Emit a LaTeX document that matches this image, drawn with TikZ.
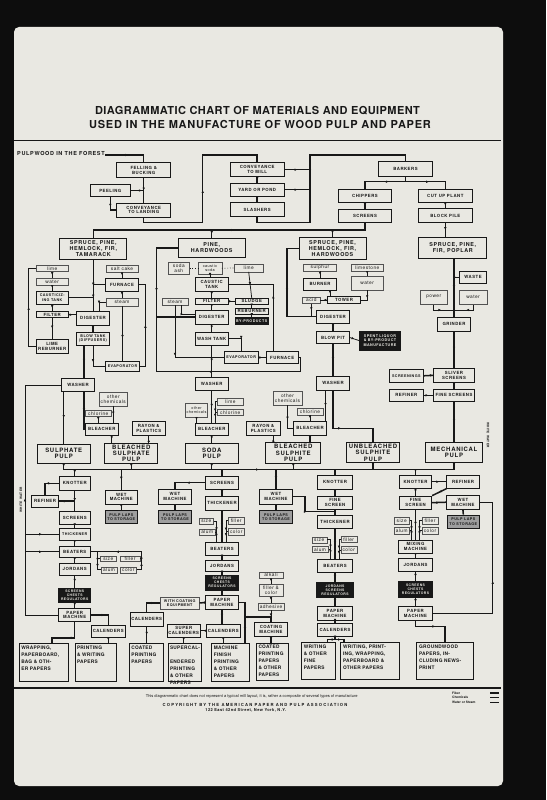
\documentclass[tikz,border=0pt]{standalone}
\usepackage{fontspec}
\usepackage{tikz}
\usetikzlibrary{arrows.meta,decorations.markings}

\newfontfamily\hvbox[LetterSpace=12]{TeX Gyre Heros}
\newfontfamily\hvchem[LetterSpace=10]{TeX Gyre Heros}
\newfontfamily\hvtitle[LetterSpace=4]{TeX Gyre Heros}
\newfontfamily\hvtitlew[LetterSpace=7]{TeX Gyre Heros}
\newfontfamily\hvfoot[LetterSpace=28]{TeX Gyre Heros}
\newfontfamily\hvprod[LetterSpace=6]{TeX Gyre Heros}
\newfontfamily\hvplain{TeX Gyre Heros}

\newcommand\bxfont{\hvbox\bfseries\fontsize{4.3}{4.8}\selectfont}
\newcommand\bxfontsm{\hvbox\bfseries\fontsize{3.7}{4.2}\selectfont}
\newcommand\tinybx{\hvbox\bfseries\fontsize{3.4}{3.9}\selectfont}
\newcommand\chfont{\hvchem\fontsize{4.8}{5.0}\selectfont}
\newcommand\chfontsm{\hvchem\fontsize{3.8}{4.4}\selectfont}
\newcommand\pulpfont{\hvbox\bfseries\fontsize{6}{6.2}\selectfont}
\newcommand\woodfont{\hvbox\bfseries\fontsize{5.4}{5.8}\selectfont}
\newcommand\prodfont{\hvprod\bfseries\fontsize{4.8}{7}\selectfont}
\newcommand\prodtext[3]{\parbox[c][#2][t]{#1}{\raggedright #3}}

\definecolor{paper}{RGB}{233,232,226}
\definecolor{ink}{RGB}{24,24,24}

\begin{document}
\begin{tikzpicture}[x=1pt,y=-1pt,
  box/.style={draw=ink, line width=0.85pt, fill=paper, inner sep=0pt, align=center, font=\bxfont, text=ink},
  chem/.style={draw=ink!75, line width=0.4pt, fill=paper, inner sep=0pt, align=center, font=\chfont, text=ink},
  dark/.style={box, fill=ink, text=paper},
  laps/.style={box, fill=black!38, font=\bxfontsm},
  pulp/.style={box, line width=1pt, font=\pulpfont},
  wood/.style={box, line width=1pt, font=\woodfont},
  prod/.style={box, line width=1pt, font=\prodfont},
  sz/.style 2 args={minimum width=#1, minimum height=#2},
  midarr/.style={postaction={decorate}, decoration={markings, mark=at position 0.5 with {\arrow{Latex[length=2.8pt,width=2.6pt]}}}},
  fiber/.style={draw=ink, line width=1.5pt, midarr},
  chemln/.style={draw=ink, line width=0.75pt, midarr},
  waterln/.style={draw=ink, line width=0.5pt, midarr},
  dotln/.style={draw=ink, line width=0.7pt, dotted}
]
\useasboundingbox (0,0) rectangle (546,800);

% slide mount and paper
\fill[black!95] (0,0) rectangle (546,800);
\fill[paper, rounded corners=5] (14,27) rectangle (503,786);
\draw[ink, line width=1.6pt] (14,140.5) -- (501,140.5);
\draw[ink, line width=2.2pt] (14,688) -- (501,688);

% title
\node[font=\hvtitle\bfseries\fontsize{11}{12}\selectfont, text=ink] (title1) at (257.5,111) {DIAGRAMMATIC CHART OF MATERIALS AND EQUIPMENT};
\node[font=\hvtitlew\bfseries\fontsize{11}{12}\selectfont, text=ink] (title2) at (260,124.7) {USED IN THE MANUFACTURE OF WOOD PULP AND PAPER};

% forest to mill
\node[font=\hvbox\bfseries\fontsize{5.5}{6}\selectfont, text=ink, anchor=base west, inner sep=0pt] (pwf) at (17,155) {PULPWOOD IN THE FOREST};
\node[box, sz={54}{15}] (fell) at (143.7,170.2) {FELLING \&\\BUCKING};
\node[box, sz={40.7}{12.4}] (peel) at (110.3,190.5) {PEELING};
\node[box, sz={54}{14}] (convl) at (143.7,210) {CONVEYANCE\\TO LANDING};
\node[box, sz={54.3}{14}] (convm) at (257.2,169.7) {CONVEYANCE\\TO MILL};
\node[box, sz={54.3}{12.7}] (yard) at (257.2,189.7) {YARD OR POND};
\node[box, sz={54.3}{14}] (slash) at (257.2,209.7) {SLASHERS};
\node[box, sz={54.4}{14.3}] (bark) at (405.5,168.8) {BARKERS};
\node[box, sz={53.4}{13.4}] (chip) at (365,196) {CHIPPERS};
\node[box, sz={53.4}{13.4}] (scr0) at (365,216) {SCREENS};
\node[box, sz={54}{13.4}] (cut) at (445.3,196) {CUT UP PLANT};
\node[box, sz={54}{14.4}] (block) at (445.3,215.5) {BLOCK PILE};

% kinds of wood
\node[wood, sz={66.7}{21}] (sphft) at (93.3,248.8) {SPRUCE, PINE,\\HEMLOCK, FIR,\\TAMARACK};
\node[wood, sz={66.7}{19}] (ph) at (211.7,247.8) {PINE,\\HARDWOODS};
\node[wood, sz={67}{22}] (sphfh) at (332.5,248.3) {SPRUCE, PINE,\\HEMLOCK, FIR,\\HARDWOODS};
\node[wood, sz={67.7}{21}] (sfp) at (452.8,247.8) {SPRUCE, PINE,\\FIR, POPLAR};

% sulphate process
\node[chem, sz={32.3}{6.7}] (lime1) at (52.2,268.3) {lime};
\node[chem, sz={32.3}{6.7}] (water1) at (52.2,281.7) {water};
\node[box, sz={32.3}{13.3}, font=\bxfontsm] (caust) at (52.2,297.7) {CAUSTICIZ-\\ING TANK};
\node[box, sz={32.3}{6}] (filt1) at (52.2,314.7) {FILTER};
\node[box, sz={32.3}{14.3}] (limer) at (52.2,346.2) {LIME\\REBURNER};
\node[chem, sz={32.6}{7.3}] (salt) at (122,268.7) {salt cake};
\node[box, sz={32.6}{12.7}] (furn1) at (122,284.7) {FURNACE};
\node[chem, sz={32.6}{7.4}] (steam1) at (122,302) {steam};
\node[box, sz={32.6}{13.3}] (dig1) at (93,318.3) {DIGESTER};
\node[box, sz={32.6}{12.7}, font=\bxfontsm] (blow1) at (93,338.7) {BLOW TANK\\(DIFFUSERS)};
\node[box, sz={33.6}{10.7}, font=\bxfontsm] (evap1) at (122.5,366.3) {EVAPORATOR};
\node[box, sz={32.6}{13.4}] (wash1) at (78,385) {WASHER};
\node[chem, sz={28}{13.4}] (oth1) at (113.3,399) {other\\chemicals};
\node[chem, sz={26.7}{6.7}] (chl1) at (98.3,413.3) {chlorine};
\node[box, sz={33.3}{11.7}] (bl1) at (101.7,429.2) {BLEACHER};
\node[box, sz={32.7}{13.3}] (ray1) at (148.7,428.3) {RAYON \&\\PLASTICS};
\node[pulp, sz={52.7}{19.3}] (sulph) at (63.7,453.7) {SULPHATE\\PULP};
\node[pulp, sz={52.7}{20}] (bsulph) at (131.3,453.3) {BLEACHED\\SULPHATE\\PULP};

% soda process
\node[chem, sz={21}{11.7}] (sash) at (178.8,268.2) {soda\\ash};
\node[chem, sz={23.4}{11.7}, font=\chfontsm] (csoda) at (210,268.2) {caustic\\soda};
\node[chem, sz={29.3}{7.4}] (lime2) at (248.7,268) {lime};
\node[box, sz={33.3}{13.3}] (ctank) at (211.7,284.3) {CAUSTIC\\TANK};
\node[box, sz={33.3}{6}] (filt2) at (211.7,301.3) {FILTER};
\node[box, sz={33.3}{6}] (sludge) at (251.7,301.3) {SLUDGE};
\node[box, sz={33.3}{6}] (reb2) at (251.7,311.3) {REBURNER};
\node[dark, sz={33.3}{6.6}, font=\bxfontsm] (byp) at (251.7,321) {BY-PRODUCTS};
\node[chem, sz={26.6}{6.7}] (steam2) at (175,301.7) {steam};
\node[box, sz={33.3}{14.3}] (dig2) at (211.7,317.2) {DIGESTER};
\node[box, sz={33.3}{12.7}] (wtank) at (211.7,338.7) {WASH TANK};
\node[box, sz={34.3}{11.6}, font=\bxfontsm] (evap2) at (241.2,357.5) {EVAPORATOR};
\node[box, sz={32.3}{11.6}] (furn2) at (282.2,357.5) {FURNACE};
\node[box, sz={33.3}{12.3}] (wash2) at (211.7,383.8) {WASHER};
\node[chem, sz={21.7}{13.4}, font=\chfontsm] (oth2) at (196.5,410) {other\\chemicals};
\node[chem, sz={26}{6.7}] (lime3) at (230.3,401.7) {lime};
\node[chem, sz={26}{6.7}] (chl2) at (230.3,412.3) {chlorine};
\node[box, sz={33.3}{11.7}] (bl2) at (211.7,429.2) {BLEACHER};
\node[box, sz={33.3}{13.3}] (ray2) at (263.3,428.3) {RAYON \&\\PLASTICS};
\node[pulp, sz={53.3}{20}] (soda) at (211.7,453.3) {SODA\\PULP};

% sulphite process
\node[chem, sz={33}{6.7}] (sulphur) at (320,267.7) {sulphur};
\node[chem, sz={32.3}{6.7}] (limest) at (367.2,267.7) {limestone};
\node[box, sz={33}{11.7}] (burner) at (320,284.2) {BURNER};
\node[chem, sz={32.3}{13.3}] (water3) at (367.2,283.3) {water};
\node[chem, sz={17.3}{6.6}] (acid) at (311.3,300) {acid};
\node[box, sz={33.4}{6.6}] (tower) at (344,300) {TOWER};
\node[box, sz={32.6}{13.3}] (dig3) at (333,316.7) {DIGESTER};
\node[box, sz={32.6}{11.6}] (bpit) at (333,337.5) {BLOW PIT};
\node[dark, sz={41.4}{19}, font=\bxfontsm] (spent) at (380,340.5) {SPENT LIQUOR\\\& BY-PRODUCT\\MANUFACTURE};
\node[box, sz={33.3}{13.3}] (wash3) at (333,383.3) {WASHER};
\node[chem, sz={28.4}{13.3}] (oth3) at (287.5,398.3) {other\\chemicals};
\node[chem, sz={26.6}{6.7}] (chl3) at (310,411.7) {chlorine};
\node[box, sz={33.4}{13.3}] (bl3) at (310,428.3) {BLEACHER};
\node[pulp, sz={54.7}{20.6}] (bsulphi) at (293.3,453) {BLEACHED\\SULPHITE\\PULP};
\node[pulp, sz={52.6}{20}] (ubsulphi) at (373,452.7) {UNBLEACHED\\SULPHITE\\PULP};

% mechanical process
\node[box, sz={27.4}{12.3}] (waste) at (473,277.2) {WASTE};
\node[chem, sz={27.3}{14.3}] (power) at (433.7,297.2) {power};
\node[chem, sz={27.4}{14.3}] (water4) at (473,297.2) {water};
\node[box, sz={33.4}{13.3}] (grind) at (454,324.3) {GRINDER};
\node[box, sz={41.3}{14}] (sliver) at (454,375.3) {SLIVER\\SCREENS};
\node[box, sz={34}{13}, font=\bxfontsm] (scrngs) at (406.3,375.8) {SCREENINGS};
\node[box, sz={34}{12.7}] (refm) at (406.3,395.3) {REFINER};
\node[box, sz={41.3}{12.7}] (fscrm) at (454,395.3) {FINE SCREENS};
\node[pulp, sz={57.3}{20}] (mech) at (454,452.7) {MECHANICAL\\PULP};

% sulphate paper line
\node[box, sz={30.7}{13.3}] (knot1) at (74.7,483.3) {KNOTTER};
\node[box, sz={26.6}{12.3}] (ref1) at (45,501.2) {REFINER};
\node[box, sz={30.7}{12.3}] (scr1) at (74.7,517.8) {SCREENS};
\node[box, sz={30.7}{11.7}, font=\bxfontsm] (thick1) at (74.7,534.2) {THICKENER};
\node[box, sz={30.7}{11.3}] (beat1) at (74.7,551.7) {BEATERS};
\node[box, sz={30.7}{11.7}] (jord1) at (74.7,569.2) {JORDANS};
\node[dark, sz={32.4}{14.4}, font=\tinybx] (scr1b) at (74.7,595.5) {SCREENS\\CHESTS\\REGULATORS};
\node[box, sz={31.7}{13.4}] (pm1) at (74.7,615) {PAPER\\MACHINE};
\node[box, sz={33.3}{12.3}] (cal1) at (108.3,631.2) {CALENDERS};
\node[prod, sz={49}{38.4}] (wrap) at (43.8,662.5) {\prodtext{45pt}{34pt}{WRAPPING,\\PAPERBOARD,\\BAG \& OTH-\\ER PAPERS}};
\node[prod, sz={41}{38.4}] (printw) at (95.5,662.5) {\prodtext{37pt}{34pt}{PRINTING\\\& WRITING\\PAPERS}};
\node[box, sz={32.7}{14}] (wet1) at (121.3,497) {WET\\MACHINE};
\node[laps, sz={32.7}{12.6}] (laps1) at (121.3,517) {PULP LAPS\\TO STORAGE};
\node[chem, sz={16.7}{5.7}] (size1) at (108.3,558.8) {size};
\node[chem, sz={20}{5.7}] (fill1) at (130,558.8) {filler};
\node[chem, sz={16.6}{6}] (alum1) at (109,569.7) {alum};
\node[chem, sz={16.7}{6}] (col1) at (128.3,569.7) {color};

% soda paper line
\node[box, sz={33.4}{14.7}] (wet2) at (175,496.7) {WET\\MACHINE};
\node[laps, sz={33.4}{12.6}] (laps2) at (175,517) {PULP LAPS\\TO STORAGE};
\node[box, sz={33.3}{13.3}] (scr2) at (222,482.7) {SCREENS};
\node[box, sz={33.3}{13.3}] (thick2) at (222,503.3) {THICKENER};
\node[chem, sz={14}{5.7}] (size2) at (206.3,521.2) {size};
\node[chem, sz={15.7}{5.7}] (alum2) at (207.2,532.2) {alum};
\node[chem, sz={15.7}{6.7}] (fill2) at (236.2,520.7) {filler};
\node[chem, sz={15.7}{6.7}] (col2) at (236.2,531.7) {color};
\node[box, sz={33.3}{12.3}] (beat2) at (222,548.8) {BEATERS};
\node[box, sz={33.3}{11.7}] (jord2) at (222,565.8) {JORDANS};
\node[dark, sz={33.3}{15}, font=\tinybx] (scr2b) at (222,582.5) {SCREENS\\CHESTS\\REGULATORS};
\node[box, sz={33.3}{13.6}] (pm2) at (222,602.5) {PAPER\\MACHINE};
\node[chem, sz={39.3}{12.6}, font=\bxfontsm] (coateq) at (179.7,603) {WITH COATING\\EQUIPMENT};
\node[box, sz={33.3}{13.3}] (cal2a) at (146.7,619.3) {CALENDERS};
\node[box, sz={32.7}{13.3}] (scal) at (183.7,630.7) {SUPER\\CALENDERS};
\node[box, sz={33.3}{13.3}] (cal2b) at (223.3,630.7) {CALENDERS};
\node[prod, sz={34}{38.4}] (coated1) at (146.3,662.5) {\prodtext{30pt}{34pt}{COATED\\PRINTING\\PAPERS}};
\node[prod, sz={33.4}{38.4}] (supc) at (185,662.5) {\prodtext{30pt}{34pt}{SUPERCAL-\\ENDERED\\PRINTING\\\& OTHER\\PAPERS}};
\node[prod, sz={38.3}{38.4}] (mf) at (230.8,662.5) {\prodtext{34pt}{34pt}{MACHINE\\FINISH\\PRINTING\\\& OTHER\\PAPERS}};

% sulphite paper line
\node[box, sz={33.4}{14.7}] (wet3) at (276,496.7) {WET\\MACHINE};
\node[laps, sz={33.4}{12.6}] (laps3) at (276,517) {PULP LAPS\\TO STORAGE};
\node[box, sz={35}{14.3}] (knot3) at (335,482.2) {KNOTTER};
\node[box, sz={35}{13.3}] (fscr3) at (335,502.7) {FINE\\SCREEN};
\node[box, sz={35}{13.3}] (thick3) at (335,521.7) {THICKENER};
\node[chem, sz={15}{6}] (size3) at (319.2,539.7) {size};
\node[chem, sz={16.6}{6.7}] (alum3) at (320,549.3) {alum};
\node[chem, sz={16}{6.7}] (fill3) at (348.7,539.3) {filler};
\node[chem, sz={16}{6.7}] (col3) at (348.7,550) {color};
\node[box, sz={35}{13.4}] (beat3) at (335,566) {BEATERS};
\node[dark, sz={36.6}{14.6}, font=\tinybx] (jsr3) at (335,590) {JORDANS\\SCREENS\\REGULATORS};
\node[box, sz={35}{13.3}] (pm3) at (335,613.3) {PAPER\\MACHINE};
\node[box, sz={35}{13.4}] (cal3) at (335,630) {CALENDERS};
\node[prod, sz={34.3}{37.3}] (wfine) at (318.8,661.3) {\prodtext{30pt}{33pt}{WRITING\\\& OTHER\\FINE\\PAPERS}};
\node[prod, sz={58.6}{37.3}] (wpwp) at (370,661.3) {\prodtext{54pt}{33pt}{WRITING, PRINT-\\ING, WRAPPING,\\PAPERBOARD \&\\OTHER PAPERS}};
\node[chem, sz={24}{6.6}] (alkali) at (271,575) {alkali};
\node[chem, sz={24}{12.7}] (fillc) at (271,590.3) {filler \&\\color};
\node[chem, sz={26}{6.7}] (adhes) at (271,606.7) {adhesive};
\node[box, sz={33.3}{14}] (coatm) at (271,629.7) {COATING\\MACHINE};
\node[prod, sz={31.6}{36.7}] (coated2) at (272.5,661.7) {\prodtext{28pt}{33pt}{COATED\\PRINTING\\PAPERS\\\& OTHER\\PAPERS}};

% groundwood paper line
\node[box, sz={32.4}{13.3}] (knot4) at (415.5,481.7) {KNOTTER};
\node[box, sz={32.6}{13.3}] (ref4) at (463,481.7) {REFINER};
\node[box, sz={32.4}{13.3}] (fscr4) at (415.5,502.7) {FINE\\SCREEN};
\node[box, sz={32.6}{14.3}] (wet4) at (463,502.2) {WET\\MACHINE};
\node[laps, sz={32}{13.3}] (laps4) at (463.3,521.7) {PULP LAPS\\TO STORAGE};
\node[chem, sz={15.3}{6.7}] (size4) at (401.7,520.7) {size};
\node[chem, sz={15.3}{6.7}] (alum4) at (401.7,530.7) {alum};
\node[chem, sz={16.6}{6.7}] (fill4) at (430,520.7) {filler};
\node[chem, sz={16.6}{6.7}] (col4) at (430,530.7) {color};
\node[box, sz={34.4}{13.3}] (mix) at (415.5,546.7) {MIXING\\MACHINE};
\node[box, sz={34.4}{13.3}] (jord4) at (415.5,565) {JORDANS};
\node[dark, sz={34.4}{15.6}, font=\tinybx] (scr4b) at (415.5,589.5) {SCREENS\\CHESTS\\REGULATORS};
\node[box, sz={34.4}{13.3}] (pm4) at (415.5,613.3) {PAPER\\MACHINE};
\node[prod, sz={56.6}{37.3}] (ground) at (445,661.3) {\prodtext{52pt}{33pt}{GROUNDWOOD\\PAPERS, IN-\\CLUDING NEWS-\\PRINT}};

% white water labels
\node[font=\hvbox\bfseries\fontsize{3.2}{4}\selectfont, text=ink, rotate=90] (wwltxt) at (21,500) {WHITE WATER};
\node[font=\hvbox\bfseries\fontsize{3.2}{4}\selectfont, text=ink, rotate=-90] (wwrtxt) at (488,435) {WHITE WATER};

% junctions
\coordinate (jland) at (143.7,222.7);
\coordinate (jup) at (202.7,155);
\coordinate (jmill) at (310,155);
\coordinate (jsl) at (310,222.7);
\coordinate (jbark) at (405.5,181.7);
\coordinate (jwood) at (365,230);
\coordinate (jph) at (156.5,371.7);
\coordinate (jft) at (273.3,284.3);
\coordinate (jsph) at (287,316.7);
\coordinate (jw3) at (333,428.3);
\coordinate (jpw) at (454,310);
\coordinate (busL) at (63.7,469.5);
\coordinate (busR) at (454,469.5);
\coordinate (wwl) at (25,615);
\coordinate (wwr) at (492.7,613.3);
\coordinate (jcm) at (245,617);
\coordinate (jwet3) at (305,511.7);
\coordinate (jcal3) at (335,639.5);
\coordinate (sf1) at (97.5,551.7);
\coordinate (sf1r) at (141.5,551.7);
\coordinate (jfurn) at (300,371.7);
\coordinate (b1w) at ([xshift=-9pt]blow1.south);
\coordinate (bl1o) at ([xshift=10pt]bl1.south);
\coordinate (ray2i) at ([xshift=10pt]ray2.south);
\coordinate (bur) at ([xshift=10pt]burner.south);
\coordinate (w3b) at ([xshift=-7.5pt]wash3.south);

% wood yard
\draw[fiber] (pwf.base east) -| (fell.north);
\draw[fiber] (fell.south) -- (convl.north);
\draw[fiber] (fell.south |- peel.east) -- (peel.east);
\draw[fiber] (peel.south) |- (convl.west);
\draw[fiber] (convl.south) -- (jland) -| (jup) -| (convm.north);
\draw[fiber] (convm.south) -- (yard.north);
\draw[fiber] (yard.south) -- (slash.north);
\draw[fiber] (convm.east) -- (convm.east -| jmill);
\draw[fiber] (yard.east) -- (yard.east -| jmill);
\draw[fiber] (slash.south) |- (jsl) -- (jmill) -| (bark.north);
\draw[fiber] (bark.south) -- (jbark) -| (chip.north);
\draw[fiber] (jbark) -| (cut.north);
\draw[fiber] (chip.south) -- (scr0.north);
\draw[fiber] (cut.south) -- (block.north);
\draw[fiber] (block.south) -- (block.south |- sfp.north);
\draw[fiber] (scr0.south) -- (jwood) -- (sphft.north |- jwood) -- (sphft.north);
\draw[fiber] (ph.north |- jwood) -- (ph.north);
\draw[fiber] (sphfh.north |- jwood) -- (sphfh.north);

% sulphate
\draw[fiber] (sphft.south) -- (sphft.south |- dig1.north);
\draw[chemln] (lime1.south) -- (water1.north);
\draw[chemln] (water1.south) -- (caust.north);
\draw[chemln] (caust.south) -- (filt1.north);
\draw[chemln] (filt1.south) -- (limer.north);
\draw[chemln] (limer.west) -- ++(-7,0) |- (lime1.west);
\draw[chemln] (filt1.east) -- (filt1.east -| dig1.west);
\draw[chemln] (salt.south) -- (furn1.north);
\draw[chemln] (furn1.west) -- ++(-12,0) |- (caust.east);
\draw[waterln] (furn1.south) -- (steam1.north);
\draw[waterln] (steam1.west) -| ([xshift=6pt]dig1.north);
\draw[chemln] (evap1.east) -- ++(5.7,0) |- (furn1.east);
\draw[waterln] (evap1.north) -- (evap1.north |- steam1.south);
\draw[fiber] (dig1.south) -- (blow1.north);
\draw[chemln] (blow1.south) |- (evap1.west);
\draw[fiber] (b1w) -- (b1w |- wash1.north);
\draw[fiber] (wash1.south -| sulph.north) -- (sulph.north);
\draw[fiber] ([xshift=6pt]wash1.south) |- (bl1.west);
\draw[chemln] (oth1.south) -- (oth1.south |- bl1.north);
\draw[chemln] (chl1.south) -- (chl1.south |- bl1.north);
\draw[fiber] (bl1o) -- (bl1o |- bsulph.north);
\draw[fiber] (bsulph.north -| ray1.south) -- (ray1.south);
\draw[waterln] (pm1.west) -- (pm1.west -| wwl) |- (wash1.west);
\draw[waterln] (thick1.west -| wwl) -- (thick1.west);
\draw[waterln] (beat1.west -| wwl) -- (beat1.west);

% soda
\draw[dotln] (sash.east) -- (csoda.west);
\draw[dotln] (csoda.east) -- (lime2.west);
\draw[chemln] (csoda.south) -- (csoda.south |- ctank.north);
\draw[chemln] (lime2.south) -- (sludge.north);
\draw[chemln] (furn2.north -| jft) -- (jft) -- (ctank.east);
\draw[chemln] (ctank.south) -- (filt2.north);
\draw[chemln] (filt2.south) -- (dig2.north);
\draw[chemln] (filt2.east) -- (sludge.west);
\draw[chemln] (sludge.south) -- (reb2.north);
\draw[chemln] (reb2.south) -- (byp.north);
\draw[fiber] (ph.west) -| (jph |- dig2.west) -- (dig2.west);
\draw[waterln] (steam2.south) |- (evap2.west);
\draw[waterln] ([xshift=6pt]steam2.south) |- ([yshift=3pt]dig2.west);
\draw[waterln] (furn2.east) -| (jfurn) -- (jfurn -| jph) -- (jph |- dig2.west);
\draw[fiber] (dig2.south) -- (wtank.north);
\draw[fiber] (wtank.south) -- (wash2.north);
\draw[chemln] (wtank.east) -| (evap2.north);
\draw[chemln] (evap2.east) -- (furn2.west);
\draw[fiber] (wash2.south) -- (bl2.north);
\draw[fiber] (bl2.south) -- (soda.north);
\draw[chemln] (oth2.south) -- (oth2.south |- bl2.north);
\draw[chemln] (lime3.west) -| ([xshift=3.5pt]bl2.north);
\draw[chemln] (chl2.west) -| ([xshift=3.5pt]bl2.north);
\draw[fiber] (ray2i |- bsulphi.north) -- (ray2i);

% sulphite
\draw[fiber] (sphfh.west) -| (jsph) -- (dig3.west);
\draw[chemln] (sulphur.south) -- (burner.north);
\draw[chemln] (limest.south) -- (water3.north);
\draw[chemln] (bur) -- (bur |- tower.north);
\draw[chemln] (water3.south) |- (tower.east);
\draw[chemln] (tower.west) -- (acid.east);
\draw[chemln] (acid.south) -- (acid.south |- dig3.west);
\draw[fiber] (dig3.south) -- (bpit.north);
\draw[fiber] (bpit.south) -- (wash3.north);
\draw[chemln] (bpit.east) -- (spent.west);
\draw[fiber] (wash3.south) -- (jw3) -| (ubsulphi.north);
\draw[fiber] (w3b) -- (w3b |- bl3.north);
\draw[chemln] (oth3.south) |- (bl3.west);
\draw[chemln] (chl3.south) -- (bl3.north);
\draw[fiber] (bl3.south) -- (bl3.south |- bsulphi.north);

% mechanical
\draw[fiber] (sfp.south -| grind.north) -- (grind.north);
\draw[chemln] (grind.north |- waste.west) -- (waste.west);
\draw[waterln] (power.south) |- (jpw);
\draw[waterln] (water4.south) |- (jpw);
\draw[fiber] (grind.south) -- (sliver.north);
\draw[fiber] (sliver.south) -- (fscrm.north);
\draw[fiber] (fscrm.south) -- (mech.north);
\draw[fiber] (sliver.west) -- (scrngs.east);
\draw[fiber] (refm.east) -- (fscrm.west);

% pulp bus
\draw[fiber] (busL) -- (busR);
\draw[fiber] (sulph.south) -- (sulph.south |- busL);
\draw[fiber] (bsulph.south) -- (bsulph.south |- busL);
\draw[fiber] (soda.south) -- (soda.south |- busL);
\draw[fiber] (bsulphi.south) -- (bsulphi.south |- busL);
\draw[fiber] (ubsulphi.south) -- (ubsulphi.south |- busL);
\draw[fiber] (mech.south) -- (mech.south |- busL);

% sulphate paper line
\draw[fiber] (knot1.north |- busL) -- (knot1.north);
\draw[fiber] (knot1.west) -| (ref1.north);
\draw[fiber] (ref1.east) -- (ref1.east -| knot1.south);
\draw[fiber] (knot1.south) -- (scr1.north);
\draw[fiber] (scr1.south) -- (thick1.north);
\draw[fiber] (thick1.south) -- (beat1.north);
\draw[fiber] (beat1.south) -- (jord1.north);
\draw[fiber] (jord1.south) -- (scr1b.north);
\draw[fiber] (scr1b.south) -- (pm1.north);
\draw[chemln] (sf1r) -- (beat1.east);
\draw[chemln] (size1.west) -| (sf1);
\draw[chemln] (alum1.west) -| (sf1);
\draw[chemln] (fill1.east) -| (sf1r);
\draw[chemln] (col1.east) -| (sf1r);
\draw[fiber] (pm1.south) -- ++(0,15.7) -| ([xshift=8pt]wrap.north);
\draw[fiber] (pm1.east) -| (cal1.north);
\draw[fiber] (cal1.south) -- (cal1.south |- printw.north);
\draw[fiber] (wet1.north |- busL) -- (wet1.north);
\draw[fiber] (wet1.south) -- (laps1.north);

% soda paper line
\draw[fiber] (scr2.north |- busL) -- (scr2.north);
\draw[fiber] (scr2.west) -| (wet2.north);
\draw[fiber] (wet2.south) -- (laps2.north);
\draw[fiber] (scr2.south) -- (thick2.north);
\draw[fiber] (thick2.south) -- (beat2.north);
\draw[chemln] (size2.east) -| ([xshift=-5.5pt]beat2.north);
\draw[chemln] (alum2.east) -| ([xshift=-5.5pt]beat2.north);
\draw[chemln] (fill2.west) -| ([xshift=4pt]beat2.north);
\draw[chemln] (col2.west) -| ([xshift=4pt]beat2.north);
\draw[fiber] (beat2.south) -- (jord2.north);
\draw[fiber] (jord2.south) -- (scr2b.north);
\draw[fiber] (scr2b.south) -- (pm2.north);
\draw[fiber] (pm2.west) -- (coateq.east);
\draw[fiber] (coateq.west) -| (cal2a.north);
\draw[fiber] (cal2a.south) -- (cal2a.south |- coated1.north);
\draw[fiber] (pm2.south) -- (pm2.south |- cal2b.north);
\draw[fiber] (cal2b.west) -- (scal.east);
\draw[fiber] (scal.south) -- (scal.south |- supc.north);
\draw[fiber] (cal2b.south) -- (cal2b.south |- mf.north);
\draw[fiber] (pm2.east) -| (jcm) -| (coatm.north);
\draw[fiber] (jcm) -- (jcm |- mf.north);

% sulphite paper line
\draw[fiber] (wet3.north |- busL) -- (wet3.north);
\draw[fiber] (wet3.south) -- (laps3.north);
\draw[fiber] (wet3.east) -| (jwet3) -- (jwet3 -| knot3.south);
\draw[fiber] (knot3.north |- busL) -- (knot3.north);
\draw[fiber] (knot3.south) -- (fscr3.north);
\draw[fiber] (fscr3.south) -- (thick3.north);
\draw[fiber] (thick3.south) -- (beat3.north);
\draw[chemln] (size3.east) -| ([xshift=-4.5pt]beat3.north);
\draw[chemln] (alum3.east) -| ([xshift=-4.5pt]beat3.north);
\draw[chemln] (fill3.west) -| ([xshift=4pt]beat3.north);
\draw[chemln] (col3.west) -| ([xshift=4pt]beat3.north);
\draw[fiber] (beat3.south) -- (jsr3.north);
\draw[fiber] (jsr3.south) -- (pm3.north);
\draw[fiber] (pm3.south) -- (cal3.north);
\draw[fiber] (cal3.south) -- (jcal3);
\draw[fiber] (jcal3) -| ([xshift=8.5pt]wfine.north);
\draw[fiber] (jcal3) -| ([xshift=-26pt]wpwp.north);
\draw[chemln] (alkali.south) -- (fillc.north);
\draw[chemln] (fillc.south) -- (adhes.north);
\draw[chemln] (adhes.south) -- (coatm.north);
\draw[fiber] (coatm.south) -- (coatm.south |- coated2.north);

% groundwood paper line
\draw[fiber] (knot4.north |- busL) -- (knot4.north);
\draw[fiber] (knot4.east) -- (ref4.west);
\draw[fiber] (ref4.south west) -- (fscr4.north east);
\draw[fiber] (knot4.south) -- (fscr4.north);
\draw[fiber] (fscr4.east) -- (wet4.west);
\draw[fiber] (wet4.south) -- (laps4.north);
\draw[fiber] (fscr4.south) -- (mix.north);
\draw[chemln] (size4.east) -| ([xshift=-4pt]mix.north);
\draw[chemln] (alum4.east) -| ([xshift=-4pt]mix.north);
\draw[chemln] (fill4.west) -| ([xshift=4pt]mix.north);
\draw[chemln] (col4.west) -| ([xshift=4pt]mix.north);
\draw[fiber] (mix.south) -- (jord4.north);
\draw[fiber] (jord4.south) -- (scr4b.north);
\draw[fiber] (scr4b.south) -- (pm4.north);
\draw[fiber] (pm4.south) -- ++(0,6) -| (ground.north);
\draw[waterln] (pm4.east) -- (wwr) |- (wet4.east);

% footer and legend
\node[font=\hvplain\fontsize{4}{5}\selectfont, text=ink] (note) at (251.7,696) {This diagrammatic chart does not represent a typical mill layout, it is, rather a composite of several types of manufacture};
\node[font=\hvfoot\bfseries\fontsize{4.2}{5}\selectfont, text=ink] (copy) at (255,705) {COPYRIGHT BY THE AMERICAN PAPER AND PULP ASSOCIATION};
\node[font=\hvchem\bfseries\fontsize{4}{5}\selectfont, text=ink] (addr) at (245.8,710.5) {122 East 42nd Street, New York, N.Y.};
\node[font=\hvplain\bfseries\fontsize{3.2}{4}\selectfont, text=ink, anchor=west, inner sep=0pt] (lgfib) at (452,693) {Fiber};
\node[font=\hvplain\bfseries\fontsize{3.2}{4}\selectfont, text=ink, anchor=west, inner sep=0pt] (lgchem) at (452,697.5) {Chemicals};
\node[font=\hvplain\bfseries\fontsize{3.2}{4}\selectfont, text=ink, anchor=west, inner sep=0pt] (lgwat) at (452,702) {Water or Steam};
\draw[ink, line width=1.5pt] (490,693) -- (499,693);
\draw[ink, line width=0.75pt] (490,697.5) -- (499,697.5);
\draw[ink, line width=0.5pt] (490,702) -- (499,702);
\end{tikzpicture}
\end{document}
